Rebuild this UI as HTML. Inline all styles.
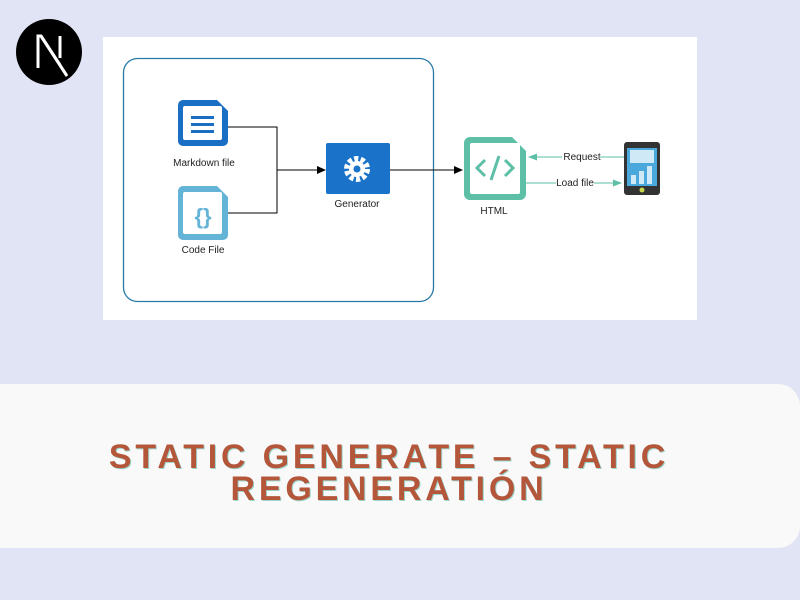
<!DOCTYPE html>
<html><head><meta charset="utf-8"><style>
body{margin:0;width:800px;height:600px;background:#e1e4f5;position:relative;overflow:hidden;font-family:"Liberation Sans",sans-serif}
.panel{position:absolute;left:-20px;top:384px;width:820px;height:164px;background:#f9f9f9;border-radius:22px}
.title{position:absolute;left:0;width:778px;top:441px;text-align:center;font-weight:bold;font-size:34px;line-height:32px;letter-spacing:3.8px;color:#b3563a;text-shadow:1px 1px 0 #9ed6cf}
</style></head><body>
<svg width="800" height="384" style="position:absolute;left:0;top:0">
<circle cx="49" cy="52" r="33" fill="#000"/>
<path d="M38 68V36h3l19 29M60 36v22" stroke="#fff" stroke-width="3" fill="none"/>
<line x1="41" y1="36" x2="67" y2="76" stroke="#fff" stroke-width="3"/>
<rect x="103" y="37" width="594" height="283" fill="#fff"/>
<rect x="123.5" y="58.5" width="310" height="243" rx="14" fill="none" stroke="#2a7aa8" stroke-width="1.3"/>
<path d="M183 100h34l11 11v30a5 5 0 0 1-5 5h-40a5 5 0 0 1-5-5v-36a5 5 0 0 1 5-5z" fill="#1a6fc4"/>
<rect x="183" y="106" width="39" height="34" rx="2" fill="#fff"/>
<rect x="191" y="116" width="23" height="3" fill="#1a6fc4"/><rect x="191" y="123" width="23" height="3" fill="#1a6fc4"/><rect x="191" y="130" width="23" height="3" fill="#1a6fc4"/>
<text x="204" y="166" font-size="10" text-anchor="middle" fill="#222">Markdown file</text>
<path d="M183 186h34l11 11v38a5 5 0 0 1-5 5h-40a5 5 0 0 1-5-5v-44a5 5 0 0 1 5-5z" fill="#63b4d6"/>
<rect x="183" y="192" width="39" height="42" rx="2" fill="#fff"/>
<text x="203" y="224" font-size="22" font-weight="bold" text-anchor="middle" fill="#63b4d6">{}</text>
<text x="203" y="253" font-size="10" text-anchor="middle" fill="#222">Code File</text>
<polyline points="228,127 277,127 277,213 228,213" fill="none" stroke="#000" stroke-width="1"/>
<line x1="277" y1="170" x2="318" y2="170" stroke="#000"/><path d="M326 170l-9-4v8z" fill="#000"/>
<rect x="326" y="143" width="64" height="51" rx="2" fill="#1a73c9"/>
<circle cx="357" cy="169" r="10" fill="none" stroke="#fff" stroke-width="6" stroke-dasharray="4 2.3"/>
<circle cx="357" cy="169" r="8" fill="#fff"/><circle cx="357" cy="169" r="3.5" fill="#1a73c9"/>
<text x="357" y="207" font-size="10" text-anchor="middle" fill="#222">Generator</text>
<line x1="390" y1="170" x2="455" y2="170" stroke="#000"/><path d="M463 170l-9-4v8z" fill="#000"/>
<path d="M470 137h42l14 14v43a6 6 0 0 1-6 6h-50a6 6 0 0 1-6-6v-51a6 6 0 0 1 6-6z" fill="#5cbfa6"/>
<rect x="470" y="143" width="50" height="51" rx="2" fill="#fff"/>
<path d="M485 160l-8 8 8 8M505 160l8 8-8 8M499 156l-8 24" stroke="#5cbfa6" stroke-width="3" fill="none"/>
<text x="494" y="214" font-size="10" text-anchor="middle" fill="#222">HTML</text>
<line x1="536" y1="157" x2="624" y2="157" stroke="#5cbfa6"/><path d="M528 157l9-3.5v7z" fill="#5cbfa6"/>
<line x1="526" y1="183" x2="614" y2="183" stroke="#5cbfa6"/><path d="M622 183l-9-3.5v7z" fill="#5cbfa6"/>
<rect x="562" y="150" width="38" height="12" fill="#fff"/><text x="582" y="160" font-size="10" text-anchor="middle" fill="#222">Request</text>
<rect x="556" y="176" width="38" height="12" fill="#fff"/><text x="575" y="186" font-size="10" text-anchor="middle" fill="#222">Load file</text>
<rect x="624" y="142" width="36" height="53" rx="3" fill="#333"/>
<rect x="627" y="148" width="30" height="38" fill="#4aa8dc"/>
<rect x="630" y="150" width="24" height="13" fill="#cfe9f7"/>
<rect x="631" y="175" width="5" height="9" fill="#cfe9f7"/><rect x="639" y="171" width="5" height="13" fill="#cfe9f7"/><rect x="647" y="166" width="5" height="18" fill="#cfe9f7"/>
<circle cx="642" cy="190" r="2.5" fill="#c8d84a"/>
</svg>
<div class="panel"></div>
<div class="title">STATIC GENERATE – STATIC<br>REGENERATIÓN</div>
</body></html>
